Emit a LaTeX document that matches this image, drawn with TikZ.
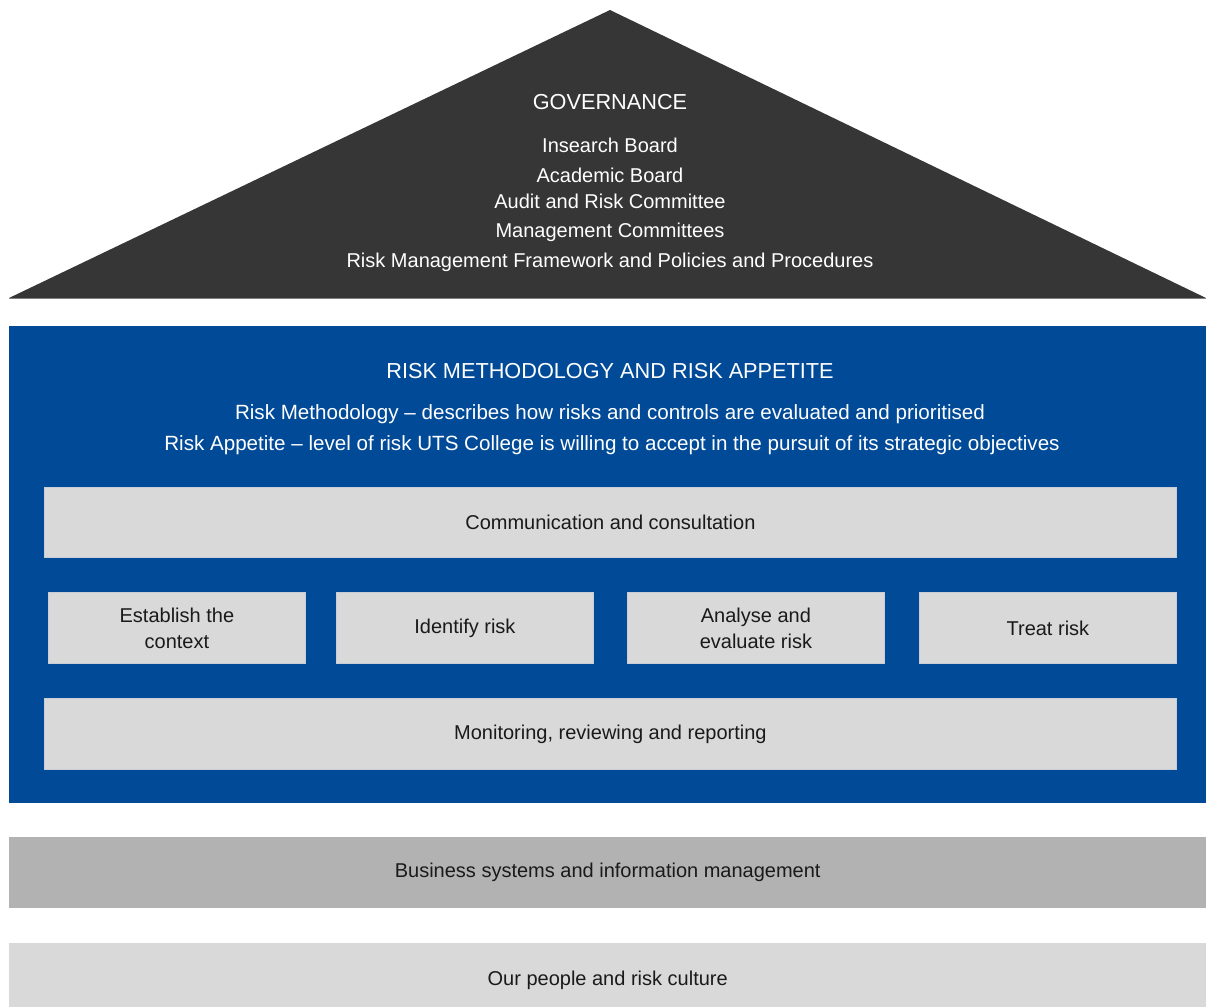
\documentclass[tikz,border=0pt]{standalone}
\usepackage{fontspec}
\setmainfont{Liberation Sans}
\definecolor{govgray}{HTML}{363636}
\definecolor{riskblue}{HTML}{004A98}
\definecolor{boxgray}{HTML}{D9D9D9}
\definecolor{midgray}{HTML}{B2B2B2}
\definecolor{boxedge}{HTML}{C9CDD8}
\definecolor{inktext}{HTML}{1A1A1A}
\begin{document}
\begin{tikzpicture}[x=1pt,y=-1pt,
  bodytext/.style={font=\fontsize{20}{24}\selectfont, inner sep=0pt},
  titletext/.style={font=\fontsize{21.7}{26}\selectfont, inner sep=0pt},
  govtext/.style={bodytext, text=white},
  bluetext/.style={font=\fontsize{20.6}{24}\selectfont, inner sep=0pt, text=white},
  processbox/.style={rectangle, fill=boxgray, draw=boxedge, line width=0.8pt, inner sep=0pt,
    font=\fontsize{20}{26}\selectfont, text=inktext, align=center},
  layerbox/.style={rectangle, inner sep=0pt, font=\fontsize{20}{24}\selectfont, text=inktext}
]
\useasboundingbox (0,0) rectangle (1206,1007);
% governance roof
\fill[govgray] (610,10) -- (1206,298) -- (9,298) -- cycle;
\draw[gray, line width=0.8pt] (9,298) -- (1206,298);
\node[titletext, text=white] (govtitle) at (610,102) {GOVERNANCE};
\node[govtext] (g1) at (610,145) {Insearch Board};
\node[govtext] (g2) at (610,175) {Academic Board};
\node[govtext] (g3) at (610,201) {Audit and Risk Committee};
\node[govtext] (g4) at (610,232) {Management Committees};
\node[govtext] (g5) at (610,262) {Risk Management Framework and Policies and Procedures};
% risk methodology block
\node[rectangle, fill=riskblue, inner sep=0pt, minimum width=1197pt, minimum height=477pt, anchor=north west] (blue) at (9,326) {};
\node[titletext, text=white] (rtitle) at (610,371) {RISK METHODOLOGY AND RISK APPETITE};
\node[bluetext] (r1) at (610,414) {Risk Methodology -- describes how risks and controls are evaluated and prioritised};
\node[bluetext] (r2) at (612,445) {Risk Appetite -- level of risk UTS College is willing to accept in the pursuit of its strategic objectives};
% process boxes
\node[processbox, minimum width=1132pt, minimum height=70pt, anchor=north west] (comm) at (44,487) {Communication and consultation};
\node[processbox, minimum width=257pt, minimum height=71pt, anchor=north west] (est) at (48,592) {Establish the\\context};
\node[processbox, minimum width=257pt, minimum height=71pt, anchor=north west] (ident) at (336,592) {Identify risk};
\node[processbox, minimum width=257pt, minimum height=71pt, anchor=north west] (anal) at (627,592) {Analyse and\\evaluate risk};
\node[processbox, minimum width=257pt, minimum height=71pt, anchor=north west] (treat) at (919,592) {Treat risk};
\node[processbox, minimum width=1132pt, minimum height=71pt, anchor=north west] (mon) at (44,698) {Monitoring, reviewing and reporting};
% foundation layers
\node[layerbox, fill=midgray, minimum width=1197pt, minimum height=71pt, anchor=north west] (biz) at (9,837) {Business systems and information management};
\node[layerbox, fill=boxgray, minimum width=1197pt, minimum height=64pt, anchor=north west, text height=20pt, text depth=0pt] (people) at (9,943) {Our people and risk culture};
\end{tikzpicture}
\end{document}
